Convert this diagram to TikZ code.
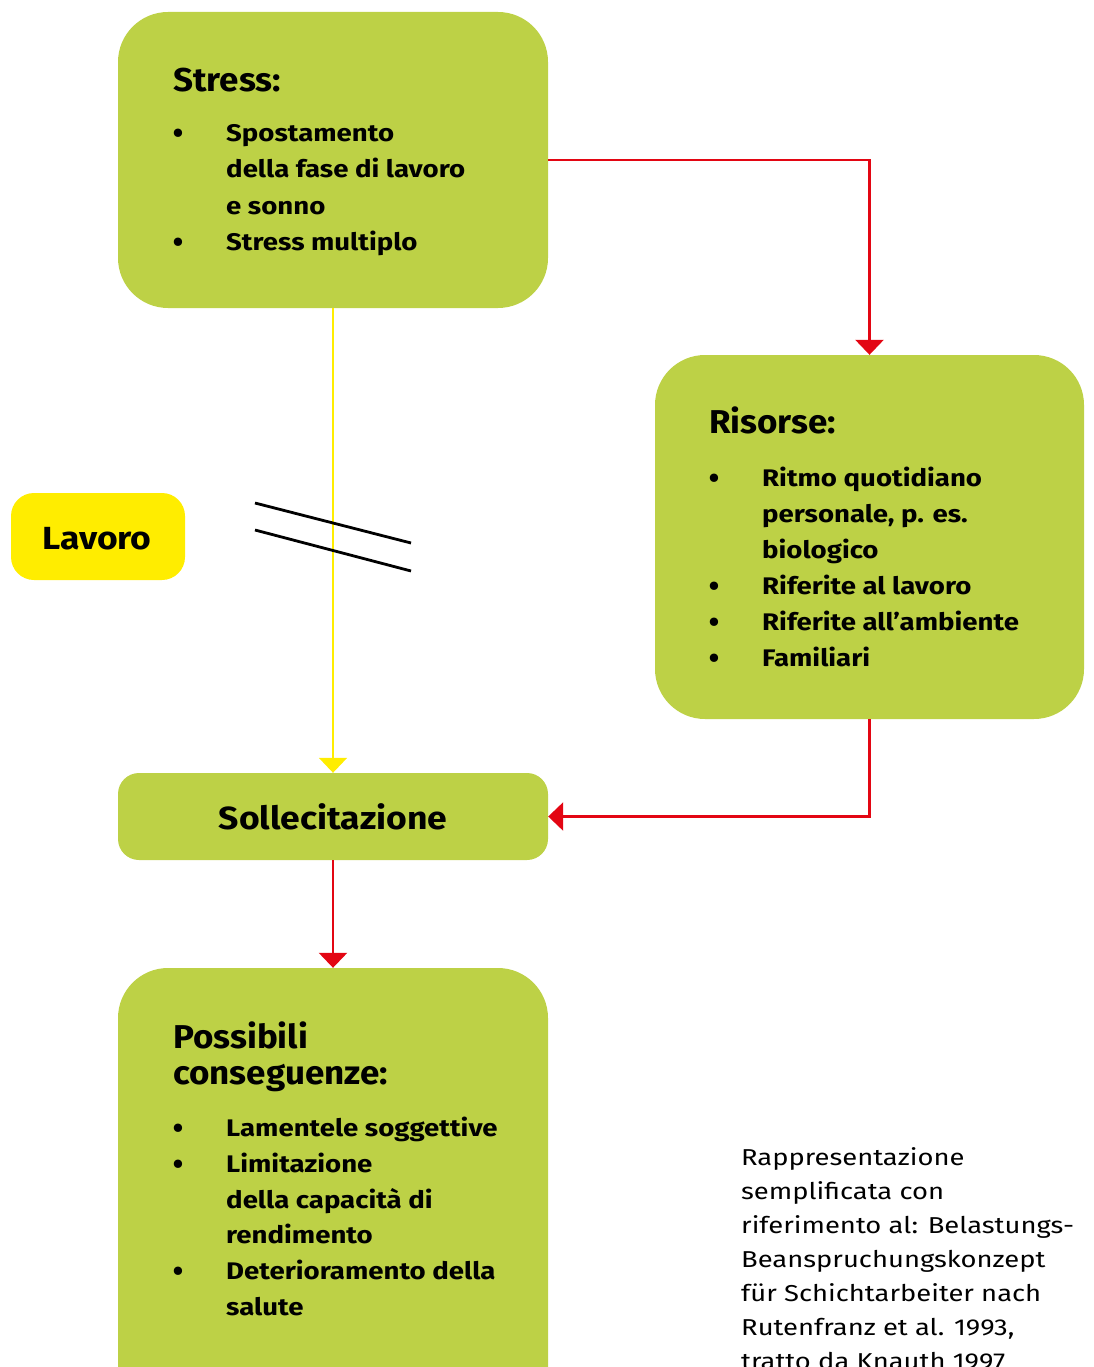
\documentclass[tikz,border=0pt]{standalone}
\usepackage{fontspec}
\setmainfont{Fira Sans}
\newfontfamily\bodyfont{Fira Sans}[FakeStretch=1.15]
\newfontfamily\headfont{Fira Sans}[FakeStretch=1.06]
\newfontfamily\labfont{Fira Sans}[FakeStretch=1.11]
\newfontfamily\capfont{Fira Sans}[FakeStretch=1.19]
\usetikzlibrary{arrows.meta}
\definecolor{boxgreen}{RGB}{189,209,70}
\definecolor{boxyellow}{RGB}{255,237,0}
\definecolor{arrred}{RGB}{227,6,19}
\tikzset{
  gbox/.style={fill=boxgreen, draw=none, rounded corners=50pt, inner sep=0pt},
  gsmall/.style={fill=boxgreen, draw=none, rounded corners=21pt, inner sep=0pt},
  ybox/.style={fill=boxyellow, draw=none, rounded corners=23pt, inner sep=0pt},
  head/.style={font=\headfont\fontsize{33}{36}\selectfont\bfseries, inner sep=0pt, anchor=base west},
  btxt/.style={font=\bodyfont\fontsize{24}{36}\selectfont\bfseries, inner sep=0pt, anchor=base west},
  bdot/.style={font=\fontsize{30}{36}\selectfont\bfseries, inner sep=0pt, anchor=base},
  lab/.style={font=\labfont\fontsize{32}{36}\selectfont\bfseries, inner sep=0pt, anchor=base},
  ctxt/.style={font=\capfont\fontsize{23}{34}\selectfont, inner sep=0pt, anchor=base west},
  redarr/.style={draw=arrred, line width=2.8pt, -{Triangle[width=28pt,length=15pt]}},
  yelarr/.style={draw=boxyellow, line width=2pt, -{Triangle[width=28pt,length=15pt]}},
  slash/.style={draw=black, line width=2.8pt},
}
\begin{document}
\begin{tikzpicture}[x=1pt,y=-1pt]
\useasboundingbox (0,0) rectangle (1094,1367);
\clip (0,0) rectangle (1094,1367);
% boxes
\node[gbox, minimum width=430pt, minimum height=296pt] (stress) at (333,160) {};
\node[gbox, minimum width=429pt, minimum height=364pt] (risorse) at (869.5,537) {};
\node[ybox, minimum width=174pt, minimum height=87pt] (lavoro) at (98,536.5) {};
\node[gsmall, minimum width=430pt, minimum height=87pt] (soll) at (333,816.5) {};
\node[gbox, minimum width=430pt, minimum height=450pt] (poss) at (333,1193) {};
% Stress text
\node[head] (sh) at (173,92) {Stress:};
\node[bdot] (sd1) at (178,144) {•};
\node[btxt] (s1) at (226,142) {Spostamento};
\node[btxt] (s2) at (226,178) {della fase di lavoro};
\node[btxt] (s3) at (226,214.5) {e sonno};
\node[bdot] (sd2) at (178,252.5) {•};
\node[btxt] (s4) at (226,250.5) {Stress multiplo};
% Risorse text
\node[head] (rh) at (709,433) {Risorse:};
\node[bdot] (rd1) at (714,488.5) {•};
\node[btxt] (r1) at (762,486.5) {Ritmo quotidiano};
\node[btxt] (r2) at (762,522.5) {personale, p. es.};
\node[btxt] (r3) at (762,558.5) {biologico};
\node[bdot] (rd2) at (714,596.5) {•};
\node[btxt] (r4) at (762,594.5) {Riferite al lavoro};
\node[bdot] (rd3) at (714,632.5) {•};
\node[btxt] (r5) at (762,630.5) {Riferite all’ambiente};
\node[bdot] (rd4) at (714,668.5) {•};
\node[btxt] (r6) at (762,666.5) {Familiari};
% Lavoro
\node[lab] (lt) at (97,549) {Lavoro};
% Sollecitazione
\node[lab] (st) at (333,829) {Sollecitazione};
% Possibili text
\node[head] (ph1) at (173,1048) {Possibili};
\node[head] (ph2) at (173,1084) {conseguenze:};
\node[bdot] (pd1) at (178,1138) {•};
\node[btxt] (p1) at (226,1136) {Lamentele soggettive};
\node[bdot] (pd2) at (178,1174) {•};
\node[btxt] (p2) at (226,1172) {Limitazione};
\node[btxt] (p3) at (226,1208) {della capacità di};
\node[btxt] (p4) at (226,1243.5) {rendimento};
\node[bdot] (pd3) at (178,1281.5) {•};
\node[btxt] (p5) at (226,1279.5) {Deterioramento della};
\node[btxt] (p6) at (226,1315.5) {salute};
% caption
\node[ctxt] (c1) at (741,1165) {Rappresentazione};
\node[ctxt] (c2) at (741,1199) {semplificata con};
\node[ctxt] (c3) at (741,1233) {riferimento al: Belastungs-};
\node[ctxt] (c4) at (741,1267) {Beanspruchungskonzept};
\node[ctxt] (c5) at (741,1301) {für Schichtarbeiter nach};
\node[ctxt] (c6) at (741,1335) {Rutenfranz et al. 1993,};
\node[ctxt] (c7) at (741,1369) {tratto da Knauth 1997};
% connectors
\draw[redarr] (stress.east) -| (risorse.north);
\draw[yelarr] (stress.south) -- (soll.north);
\draw[redarr] (risorse.south) |- (soll.east);
\draw[redarr] (soll.south) -- (poss.north);
% double slash
\coordinate (sa1) at (255,503);
\coordinate (sa2) at (411,543);
\coordinate (sb1) at (255,530);
\coordinate (sb2) at (411,571);
\draw[slash] (sa1) -- (sa2);
\draw[slash] (sb1) -- (sb2);
\end{tikzpicture}
\end{document}
